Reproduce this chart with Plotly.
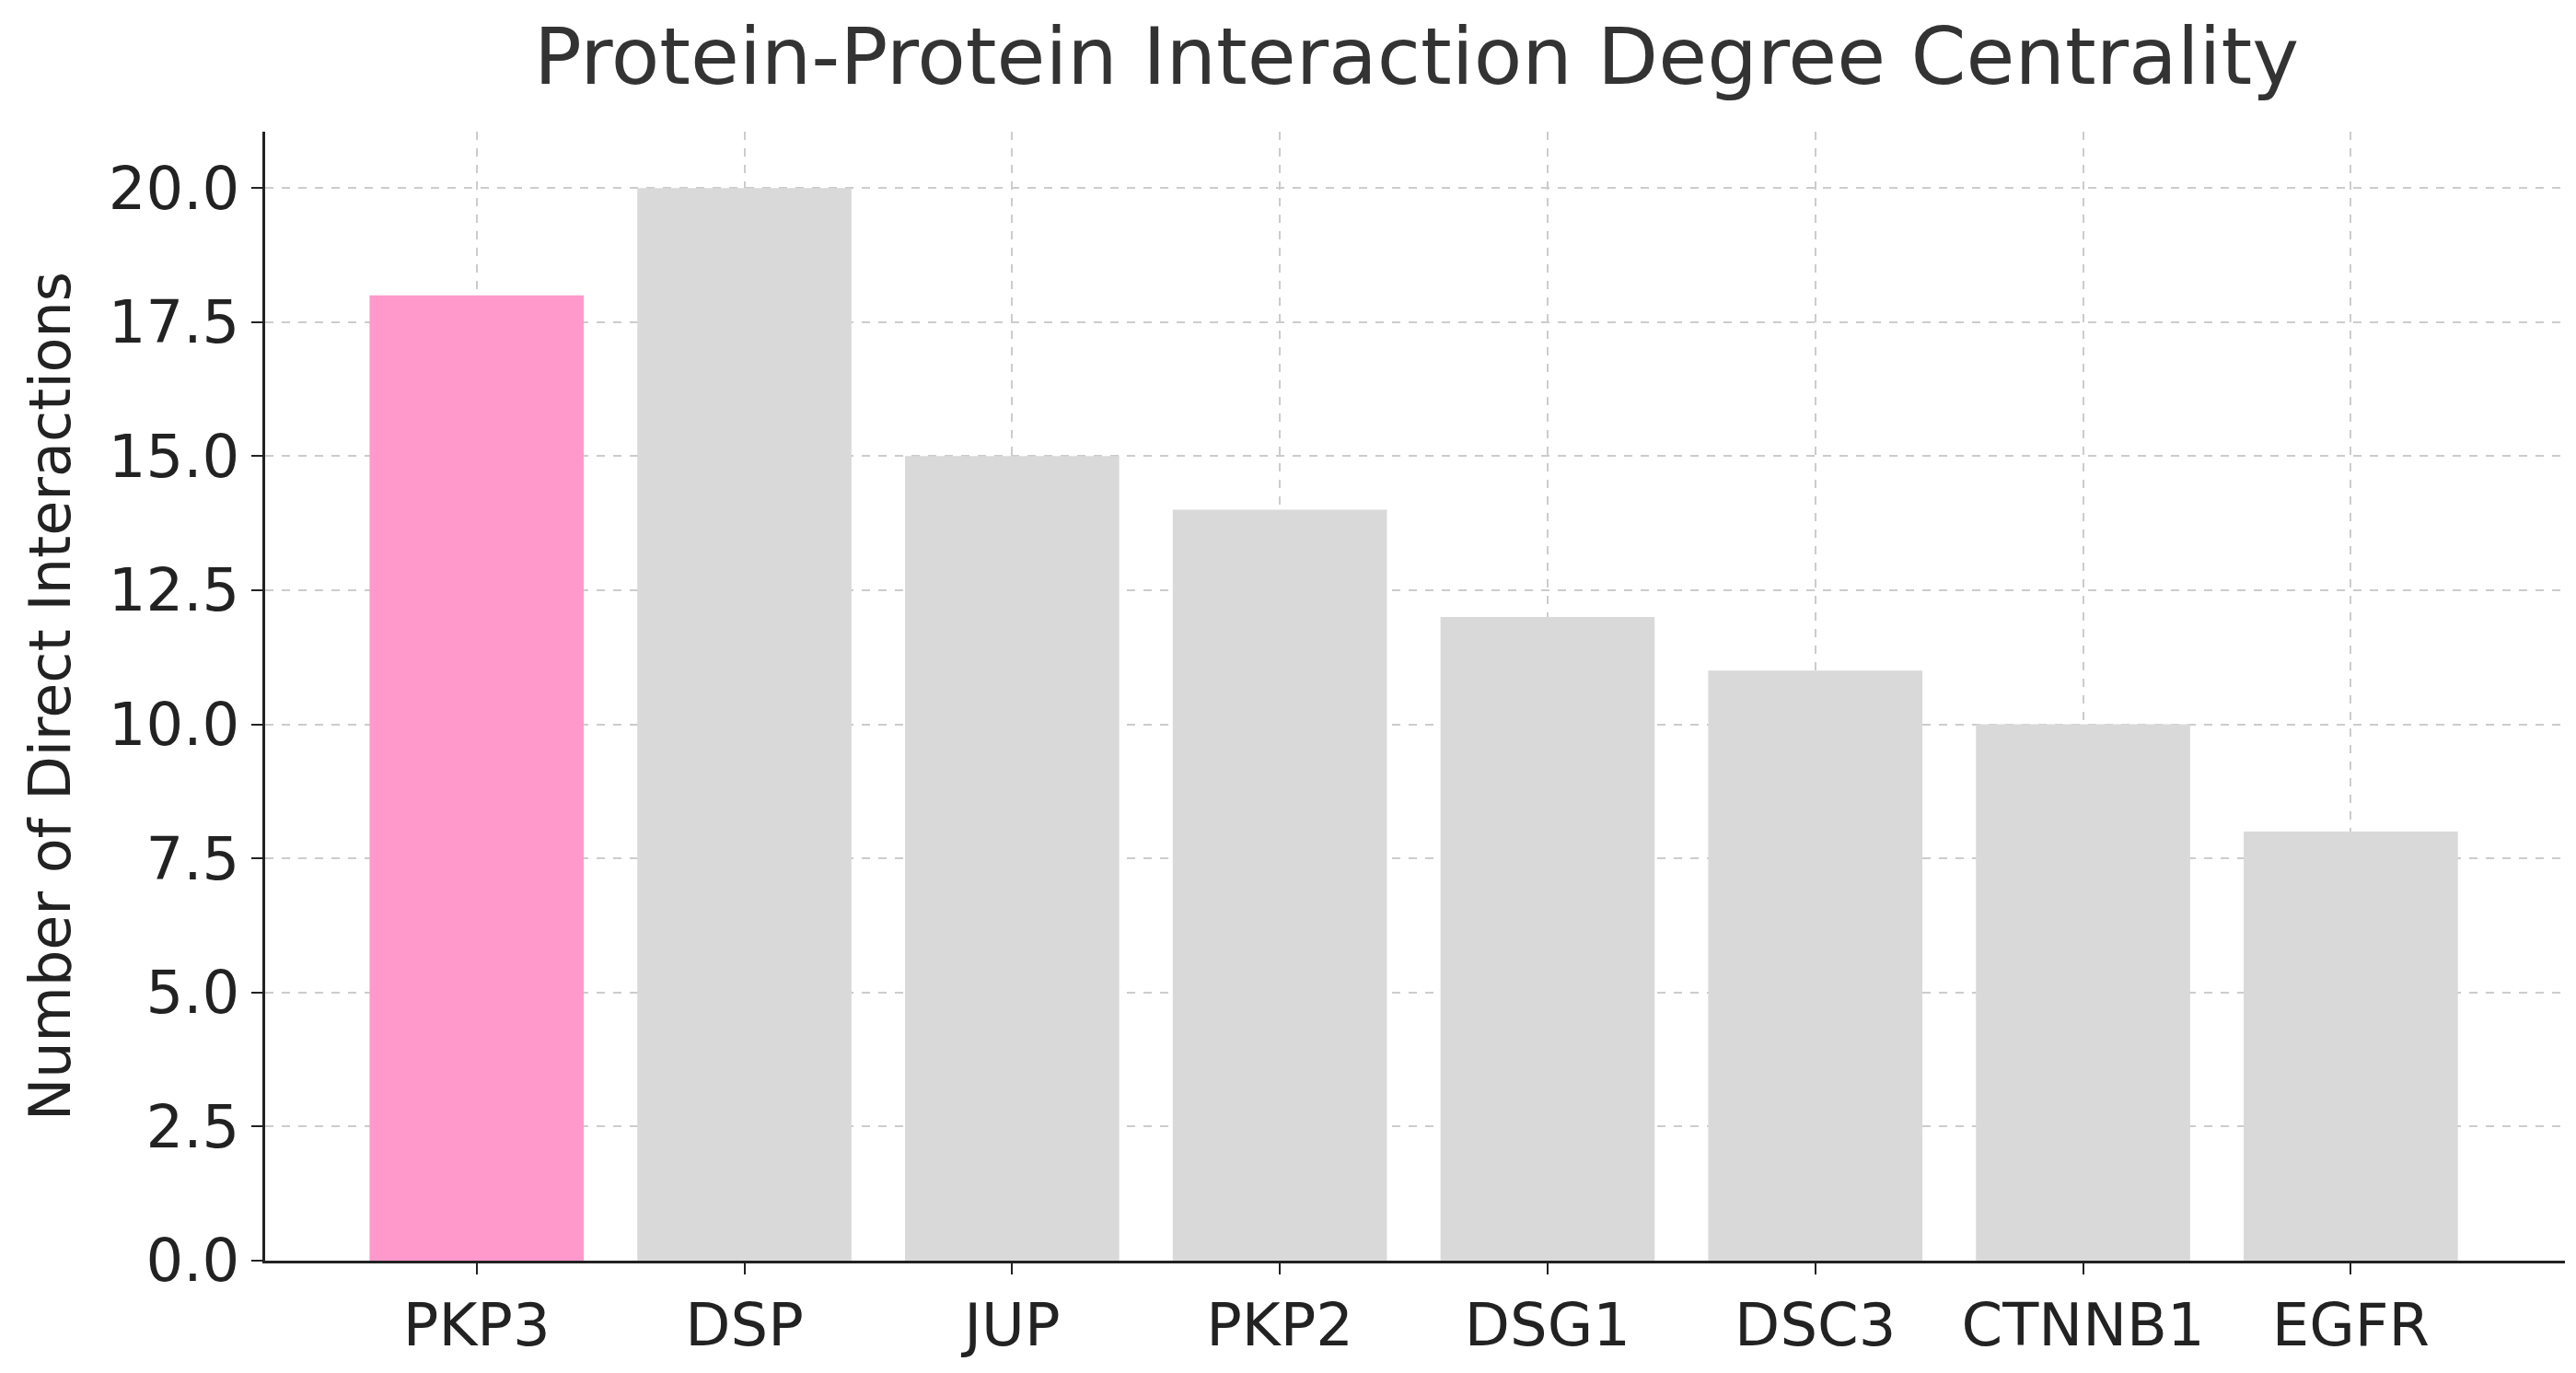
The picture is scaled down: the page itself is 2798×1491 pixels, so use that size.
import plotly.graph_objects as go

proteins = ["PKP3", "DSP", "JUP", "PKP2", "DSG1", "DSC3", "CTNNB1", "EGFR"]
interactions = [18, 20, 15, 14, 12, 11, 10, 8]
colors = ["#ff99cc"] + ["#d9d9d9"] * 7
yticks = [0, 2.5, 5, 7.5, 10, 12.5, 15, 17.5, 20]

fig = go.Figure(go.Bar(x=list(range(len(proteins))), y=interactions,
                       marker=dict(color=colors, line=dict(width=0)), width=0.8))
font = "DejaVu Sans"
fig.update_layout(
    width=2798, height=1491, plot_bgcolor="white", paper_bgcolor="white",
    margin=dict(l=280, r=20, t=135, b=130),
    title=dict(text="Protein-Protein Interaction Degree Centrality", xref="container", x=0.547,
               xanchor="center", y=0.985, yanchor="top",
               font=dict(family=font, size=86, color="#333333")),
    showlegend=False,
)
fig.update_xaxes(range=[-0.79, 7.8], tickvals=list(range(len(proteins))), ticktext=proteins,
                 showline=True, linecolor="#222", linewidth=3, ticks="outside", ticklen=12,
                 tickwidth=2, tickcolor="#222",
                 showgrid=True, gridcolor="#cccccc", griddash="dash", gridwidth=2,
                 tickfont=dict(family=font, size=64, color="#222"))
fig.update_yaxes(range=[0, 21.05], tickvals=yticks, ticktext=[f"{v:.1f}" for v in yticks],
                 showline=True, linecolor="#222", linewidth=3, ticks="outside", ticklen=12,
                 tickwidth=2, tickcolor="#222",
                 showgrid=True, gridcolor="#cccccc", griddash="dash", gridwidth=2, zeroline=False,
                 title=dict(text="Number of Direct Interactions", font=dict(family=font, size=62, color="#222"), standoff=22),
                 tickfont=dict(family=font, size=64, color="#222"))
fig.write_html("out.html")
